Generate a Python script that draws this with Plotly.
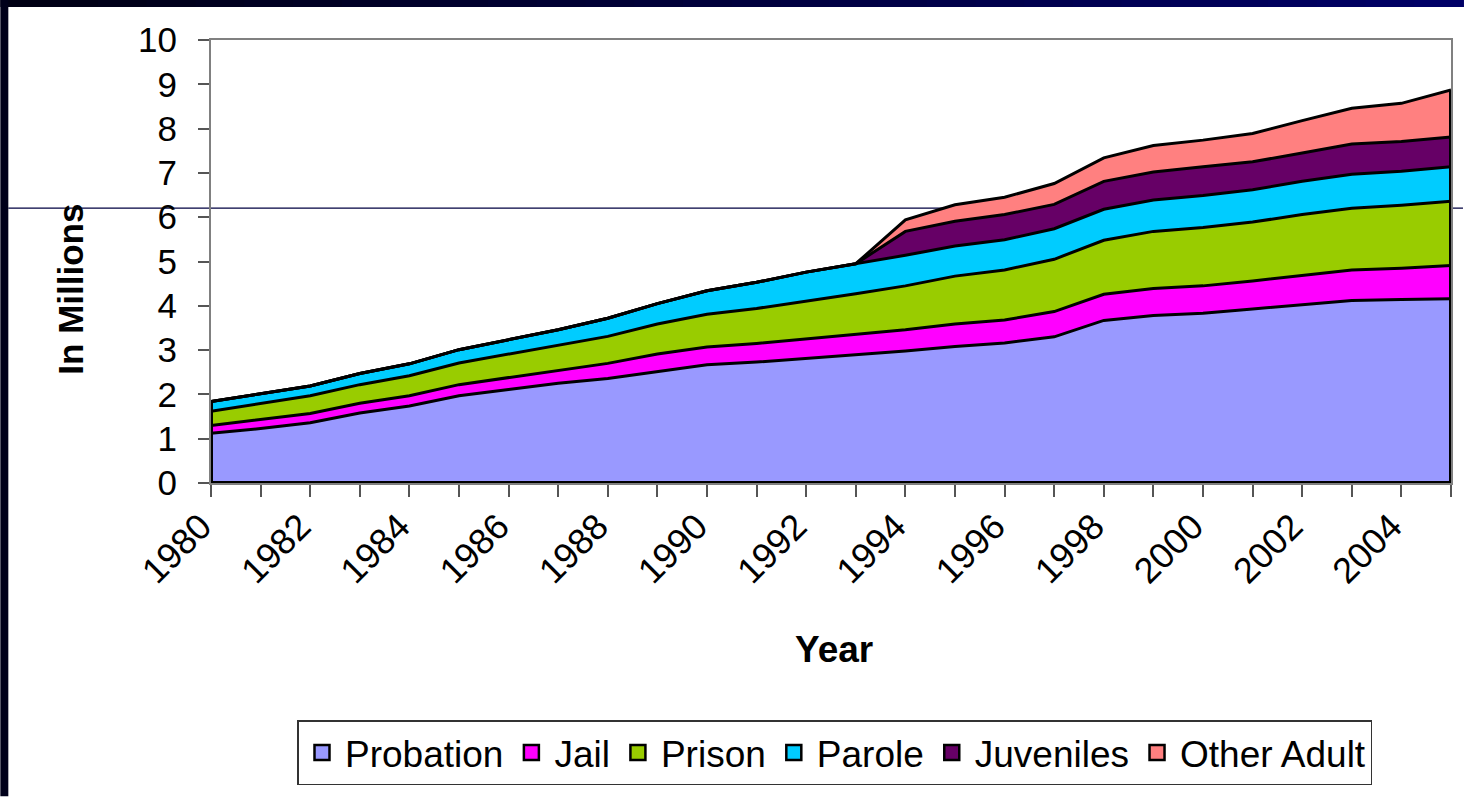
import plotly.graph_objects as go

years = list(range(1980, 2006))
tick_text = [str(y) if y % 2 == 0 else "" for y in years]

probation = [1.12, 1.23, 1.36, 1.58, 1.74, 1.97, 2.11, 2.25, 2.36, 2.52, 2.67, 2.73, 2.81,
             2.90, 2.98, 3.08, 3.16, 3.30, 3.67, 3.78, 3.83, 3.93, 4.02, 4.12, 4.14, 4.16]
jail = [0.18, 0.20, 0.21, 0.22, 0.23, 0.25, 0.27, 0.29, 0.34, 0.39, 0.40, 0.42, 0.44,
        0.46, 0.48, 0.51, 0.52, 0.57, 0.59, 0.61, 0.62, 0.63, 0.67, 0.69, 0.71, 0.75]
prison = [0.32, 0.36, 0.40, 0.42, 0.45, 0.49, 0.53, 0.56, 0.61, 0.68, 0.74, 0.79, 0.85,
          0.91, 0.99, 1.08, 1.13, 1.18, 1.22, 1.29, 1.32, 1.33, 1.37, 1.39, 1.42, 1.45]
parole = [0.22, 0.23, 0.22, 0.25, 0.27, 0.30, 0.33, 0.36, 0.41, 0.46, 0.53, 0.59, 0.66,
          0.68, 0.69, 0.68, 0.68, 0.69, 0.70, 0.71, 0.72, 0.73, 0.75, 0.77, 0.77, 0.78]
juveniles = [0, 0, 0, 0, 0, 0, 0, 0, 0, 0, 0, 0, 0,
             0, 0.54, 0.56, 0.57, 0.55, 0.63, 0.63, 0.65, 0.63, 0.64, 0.68, 0.67, 0.67]
other_adult = [0, 0, 0, 0, 0, 0, 0, 0, 0, 0, 0, 0, 0,
               0, 0.26, 0.37, 0.39, 0.47, 0.53, 0.60, 0.60, 0.64, 0.73, 0.81, 0.86, 1.06]

series_names = ["Probation", "Jail", "Prison", "Parole", "Juveniles", "Other Adult"]
series_values = [probation, jail, prison, parole, juveniles, other_adult]
series_colors = ["#9999FF", "#FF00FF", "#99CC00", "#00CCFF", "#660066", "#FF8080"]

FONT = "Liberation Sans, Arial, sans-serif"

fig = go.Figure()
for name, vals, col in zip(series_names, series_values, series_colors):
    fig.add_trace(go.Scatter(
        x=years, y=vals, name=name, mode="lines", stackgroup="one",
        line=dict(color="black", width=3), fillcolor=col, showlegend=False,
    ))

# outline of the stacked block edges (left, right, bottom) derived from data
totals = [sum(v[i] for v in series_values) for i in range(len(years))]
fig.add_trace(go.Scatter(
    x=[years[0], years[0], None, years[-1], years[-1], None, years[0], years[-1]],
    y=[0, totals[0], None, 0, totals[-1], None, 0, 0],
    mode="lines", line=dict(color="black", width=4), showlegend=False, hoverinfo="skip",
))

# legend entries (square swatches like the original)
for name, col in zip(series_names, series_colors):
    fig.add_trace(go.Scatter(
        x=[None], y=[None], name=name, mode="markers",
        marker=dict(symbol="square", size=15, color=col, line=dict(color="black", width=2.5)),
    ))

W, H = 1465, 798
L, R, T, B = 211, 12, 40, 314
pw, ph = W - L - R, H - T - B

def px_x(px):
    return (px - L) / pw

def px_y(py):
    return (H - B - py) / ph

shapes = []
# top gradient band
n = 30
for i in range(n):
    f = i / (n - 1)
    b = int(20 + f * (102 - 20))
    shapes.append(dict(type="rect", xref="paper", yref="paper",
                       x0=px_x(W * i / n), x1=px_x(W * (i + 1) / n + 1),
                       y0=px_y(7), y1=px_y(0), fillcolor=f"rgb(0,0,{b})",
                       line=dict(width=0), layer="above"))
# left dark strip
shapes.append(dict(type="rect", xref="paper", yref="paper",
                   x0=px_x(0), x1=px_x(8), y0=px_y(H), y1=px_y(0),
                   fillcolor="#00001a", line=dict(width=0), layer="above"))
# horizontal slide line
shapes.append(dict(type="line", xref="paper", yref="paper",
                   x0=px_x(8), x1=px_x(W), y0=px_y(208.5), y1=px_y(208.5),
                   line=dict(color="#000040", width=1.3), layer="below"))

fig.update_layout(
    width=W, height=H,
    margin=dict(l=L, r=R, t=T, b=B),
    paper_bgcolor="white", plot_bgcolor="rgba(0,0,0,0)",
    font=dict(family=FONT, color="black"),
    showlegend=True,
    legend=dict(orientation="h", x=px_x(836), xanchor="center", y=px_y(722), yanchor="top",
                font=dict(size=37, family=FONT), bordercolor="#333333", borderwidth=1.5,
                bgcolor="white", traceorder="normal", itemwidth=36),
    shapes=shapes,
    annotations=[
        dict(text="<b>Year</b>", xref="paper", yref="paper", x=px_x(835), y=px_y(651),
             showarrow=False, font=dict(size=37, family=FONT), xanchor="center", yanchor="middle"),
        dict(text="<b>In Millions</b>", xref="paper", yref="paper", x=px_x(70), y=px_y(290),
             showarrow=False, textangle=-90, font=dict(size=35, family=FONT),
             xanchor="center", yanchor="middle"),
    ],
)

fig.update_xaxes(
    range=[years[0], years[-1]], tickmode="array", tickvals=years, ticktext=tick_text,
    tickangle=-45, tickfont=dict(size=36, family=FONT),
    ticklabelshift=-10, ticklabelstandoff=-6,
    showline=True, linecolor="#808080", linewidth=2, mirror=True,
    ticks="outside", ticklen=12, tickwidth=1.5, tickcolor="#555555",
    showgrid=False, zeroline=False,
)
fig.update_yaxes(
    range=[0, 10], dtick=1, tickfont=dict(size=35, family=FONT),
    showline=True, linecolor="#808080", linewidth=2, mirror=True,
    ticks="outside", ticklen=11, tickwidth=1.5, tickcolor="#555555",
    ticklabelstandoff=14,
    showgrid=False, zeroline=False,
)

fig.write_html("out.html", config={"displayModeBar": False},
               post_script="document.body.style.margin='0';document.body.style.padding='0';")
